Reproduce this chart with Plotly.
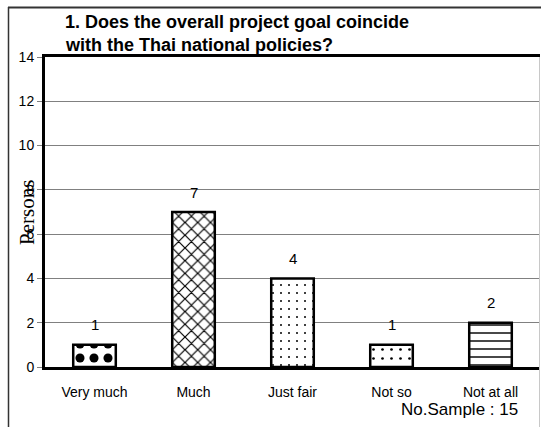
import plotly.graph_objects as go

categories = ["Very much", "Much", "Just fair", "Not so", "Not at all"]
persons = [1, 7, 4, 1, 2]
y_ticks = [0, 2, 4, 6, 8, 10, 12, 14]
title_lines = ["1. Does the overall project goal coincide", "with the Thai national policies?"]
sample_note = "No.Sample : 15"
y_title = "Persons"

W, H = 541, 427
L, R, T, B = 45, 1, 57, 60
PW, PH = W - L - R, H - T - B


def px(x):
    return (x - L) / PW


def py(y):
    return (H - B - y) / PH


SANS = "Arial, Liberation Sans, sans-serif"

fig = go.Figure()
fig.add_trace(go.Bar(
    x=categories,
    y=persons,
    width=0.43,
    marker=dict(
        color="white",
        line=dict(color="black", width=2.5),
        pattern=dict(
            shape=[".", "x", ".", ".", "-"],
            size=[14, 9, 8, 9, 8],
            solidity=[0.33, 0.25, 0.05, 0.07, 0.18],
            fgcolor="black",
            fgopacity=1,
            bgcolor="white",
            fillmode="overlay",
        ),
    ),
    showlegend=False,
    hoverinfo="x+y",
))

annotations = []
for c, v in zip(categories, persons):
    annotations.append(dict(
        x=c, y=v, xref="x", yref="y", text=str(v), showarrow=False,
        yshift=20, yanchor="middle", font=dict(family=SANS, size=15, color="black"),
    ))

annotations += [
    dict(x=px(63), y=py(22), xref="paper", yref="paper", text="<b>%s</b>" % title_lines[0],
         showarrow=False, xanchor="left", yanchor="middle",
         font=dict(family=SANS, size=18, color="black")),
    dict(x=px(63), y=py(45), xref="paper", yref="paper", text="<b>%s</b>" % title_lines[1],
         showarrow=False, xanchor="left", yanchor="middle",
         font=dict(family=SANS, size=18, color="black")),
    dict(x=px(520), y=py(409), xref="paper", yref="paper", text=sample_note,
         showarrow=False, xanchor="right", yanchor="middle",
         font=dict(family=SANS, size=17, color="black")),
    dict(x=px(27), y=py(213), xref="paper", yref="paper", text=y_title, textangle=-90,
         showarrow=False, xanchor="center", yanchor="middle",
         font=dict(family="Times New Roman, Liberation Serif, serif", size=21, color="black")),
]

shapes = [
    dict(type="line", xref="paper", yref="paper", x0=px(8), x1=px(541), y0=py(7.5), y1=py(7.5),
         line=dict(color="#333333", width=2)),
    dict(type="line", xref="paper", yref="paper", x0=px(8.5), x1=px(8.5), y0=py(7), y1=py(427),
         line=dict(color="#333333", width=1.5)),
    dict(type="line", xref="paper", yref="paper", x0=px(539.5), x1=px(539.5), y0=py(57), y1=py(427),
         line=dict(color="#c8c8c8", width=1)),
]

fig.update_layout(
    width=W, height=H,
    margin=dict(l=L, r=R, t=T, b=B),
    paper_bgcolor="white",
    plot_bgcolor="white",
    annotations=annotations,
    shapes=shapes,
    showlegend=False,
    xaxis=dict(
        range=[-0.5, 4.5],
        showline=True, linecolor="black", linewidth=3, mirror=True,
        showgrid=False, ticks="", ticklabelstandoff=10,
        tickfont=dict(family=SANS, size=14, color="black"),
        fixedrange=True,
    ),
    yaxis=dict(
        range=[0, 14],
        tickvals=y_ticks,
        showline=True, linecolor="black", linewidth=3, mirror=False,
        showgrid=True, gridcolor="#808080", gridwidth=1,
        ticks="outside", ticklen=5, tickcolor="#808080", tickwidth=1,
        tickfont=dict(family=SANS, size=14, color="black"),
        zeroline=False,
        fixedrange=True,
    ),
)

fig.write_html(
    "out.html",
    config={"displayModeBar": False},
    post_script="document.body.style.margin='0';document.body.style.padding='0';",
)
